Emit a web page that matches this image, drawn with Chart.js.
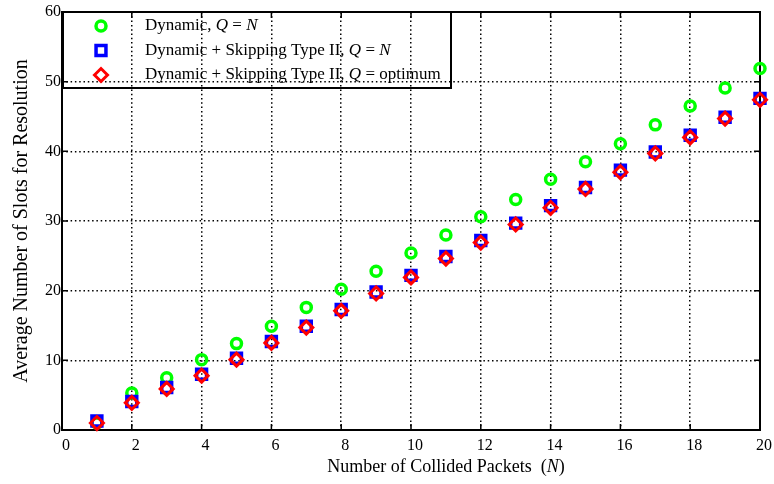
<!DOCTYPE html>
<html>
<head>
<meta charset="utf-8">
<title>Average number of slots for resolution</title>
<script src="https://cdn.jsdelivr.net/npm/chart.js@4/dist/chart.umd.min.js"></script>
<style>
  html, body { margin: 0; padding: 0; background: #fff; }
</style>
</head>
<body>
<canvas id="slots" width="774" height="484"></canvas>
<script>
// collided packets N
var packets = [1, 2, 3, 4, 5, 6, 7, 8, 9, 10, 11, 12, 13, 14, 15, 16, 17, 18, 19, 20];

// average number of slots per scheme
var dynamicQN = [1.0, 5.3, 7.5, 10.1, 12.4, 14.9, 17.6, 20.2, 22.8, 25.4, 28.0, 30.6, 33.1, 36.0, 38.5, 41.1, 43.8, 46.5, 49.1, 51.9];
var skippingQN = [1.3, 4.1, 6.1, 8.0, 10.3, 12.7, 14.9, 17.3, 19.8, 22.2, 24.9, 27.2, 29.7, 32.2, 34.8, 37.3, 39.9, 42.3, 44.9, 47.6];
var skippingOpt = [1.0, 3.9, 5.9, 7.8, 10.1, 12.5, 14.7, 17.1, 19.6, 21.9, 24.6, 26.9, 29.5, 31.9, 34.6, 37.0, 39.7, 42.0, 44.7, 47.4];

var xTicks = [0, 2, 4, 6, 8, 10, 12, 14, 16, 18, 20];
var yTicks = [0, 10, 20, 30, 40, 50, 60];

// legend text, [text, italic] runs
var legendDynamic = [['Dynamic, ', false], ['Q', true], [' = ', false], ['N', true]];
var legendSkipQN = [['Dynamic + Skipping Type II, ', false], ['Q', true], [' = ', false], ['N', true]];
var legendSkipOpt = [['Dynamic + Skipping Type II, ', false], ['Q', true], [' = optimum', false]];
var xTitle = [['Number of Collided Packets  (', false], ['N', true], [')', false]];

var SERIF = '"Liberation Serif", "Times New Roman", serif';

function points(ys) {
  return packets.map(function (n, i) { return { x: n, y: ys[i] }; });
}

function runsWidth(ctx, runs, size) {
  var w = 0;
  runs.forEach(function (r) {
    ctx.font = (r[1] ? 'italic ' : '') + size + 'px ' + SERIF;
    w += ctx.measureText(r[0]).width;
  });
  return w;
}

function drawRuns(ctx, runs, x, y, size) {
  ctx.textAlign = 'left';
  ctx.textBaseline = 'middle';
  ctx.fillStyle = '#000';
  runs.forEach(function (r) {
    ctx.font = (r[1] ? 'italic ' : '') + size + 'px ' + SERIF;
    ctx.fillText(r[0], x, y);
    x += ctx.measureText(r[0]).width;
  });
}

var datasets = [
  {
    label: 'Dynamic, Q = N',
    legendRuns: legendDynamic,
    data: points(dynamicQN),
    pointStyle: 'circle',
    pointRadius: 5,
    pointBorderWidth: 3.5,
    borderColor: '#00ff00',
    backgroundColor: 'rgba(0,0,0,0)',
    order: 3
  },
  {
    label: 'Dynamic + Skipping Type II, Q = N',
    legendRuns: legendSkipQN,
    data: points(skippingQN),
    pointStyle: 'rect',
    pointRadius: 7,
    pointBorderWidth: 3.5,
    borderColor: '#0000ff',
    backgroundColor: 'rgba(0,0,0,0)',
    order: 2
  },
  {
    label: 'Dynamic + Skipping Type II, Q = optimum',
    legendRuns: legendSkipOpt,
    data: points(skippingOpt),
    pointStyle: 'rectRot',
    pointRadius: 6.5,
    pointBorderWidth: 3,
    borderColor: '#ff0000',
    backgroundColor: 'rgba(0,0,0,0)',
    order: 1
  }
];
datasets.forEach(function (d) { d.clip = false; d.pointHoverRadius = d.pointRadius; });

// box, inward ticks, legend and the x title
var framePlugin = {
  id: 'frame',
  beforeDatasetsDraw: function (chart) {
    var ctx = chart.ctx, a = chart.chartArea;
    var xs = chart.scales.x, ys = chart.scales.y;
    ctx.save();
    ctx.strokeStyle = '#000';
    ctx.lineWidth = 1.5;
    ctx.beginPath();
    xTicks.forEach(function (v) {
      var px = xs.getPixelForValue(v);
      ctx.moveTo(px, a.bottom); ctx.lineTo(px, a.bottom - 6);
      ctx.moveTo(px, a.top); ctx.lineTo(px, a.top + 6);
    });
    yTicks.forEach(function (v) {
      var py = ys.getPixelForValue(v);
      ctx.moveTo(a.left, py); ctx.lineTo(a.left + 6, py);
      ctx.moveTo(a.right, py); ctx.lineTo(a.right - 6, py);
    });
    ctx.stroke();
    ctx.lineWidth = 2;
    ctx.strokeRect(a.left, a.top, a.right - a.left, a.bottom - a.top);
    ctx.restore();
  },
  afterDraw: function (chart) {
    var ctx = chart.ctx, a = chart.chartArea;
    ctx.save();
    // legend box
    ctx.strokeStyle = '#000';
    ctx.lineWidth = 2;
    ctx.strokeRect(a.left + 1, a.top, 388, 76);
    chart.data.datasets.forEach(function (d, i) {
      var cy = a.top + 14 + i * 24.5;
      ctx.strokeStyle = d.borderColor;
      ctx.fillStyle = 'rgba(0,0,0,0)';
      ctx.lineWidth = d.pointBorderWidth;
      Chart.helpers.drawPoint(ctx, { pointStyle: d.pointStyle, radius: d.pointRadius, borderWidth: d.pointBorderWidth, rotation: 0 }, a.left + 39, cy);
      drawRuns(ctx, d.legendRuns, a.left + 83, cy, 17);
    });
    // x axis title
    var tw = runsWidth(ctx, xTitle, 18);
    drawRuns(ctx, xTitle, (a.left + a.right) / 2 + 35 - tw / 2, 467, 18);
    ctx.restore();
  }
};

new Chart(document.getElementById('slots'), {
  type: 'scatter',
  data: { datasets: datasets },
  plugins: [framePlugin],
  options: {
    responsive: false,
    animation: false,
    devicePixelRatio: 1,
    layout: { padding: { top: 12, right: 14, left: 0, bottom: 0 } },
    plugins: {
      legend: { display: false },
      tooltip: { enabled: false }
    },
    scales: {
      x: {
        type: 'linear',
        min: 0,
        max: 20,
        afterBuildTicks: function (s) { s.ticks = xTicks.map(function (v) { return { value: v }; }); },
        afterFit: function (s) { s.height = 54; },
        ticks: {
          color: '#000',
          font: { family: SERIF, size: 16 },
          padding: 6,
          labelOffset: 4,
          maxRotation: 0,
          autoSkip: false
        },
        grid: { color: '#000', lineWidth: 1.5, drawTicks: false },
        border: { display: false, dash: [1.5, 2.8] }
      },
      y: {
        type: 'linear',
        min: 0,
        max: 60,
        afterBuildTicks: function (s) { s.ticks = yTicks.map(function (v) { return { value: v }; }); },
        afterFit: function (s) { s.width = 62; },
        ticks: {
          color: '#000',
          font: { family: SERIF, size: 16 },
          padding: 1,
          autoSkip: false
        },
        grid: { color: '#000', lineWidth: 1.5, drawTicks: false },
        border: { display: false, dash: [1.5, 2.8] },
        title: {
          display: true,
          text: 'Average Number of Slots for Resolution',
          color: '#000',
          font: { family: SERIF, size: 20 },
          padding: { top: 10, bottom: 0 }
        }
      }
    }
  }
});
</script>
</body>
</html>
